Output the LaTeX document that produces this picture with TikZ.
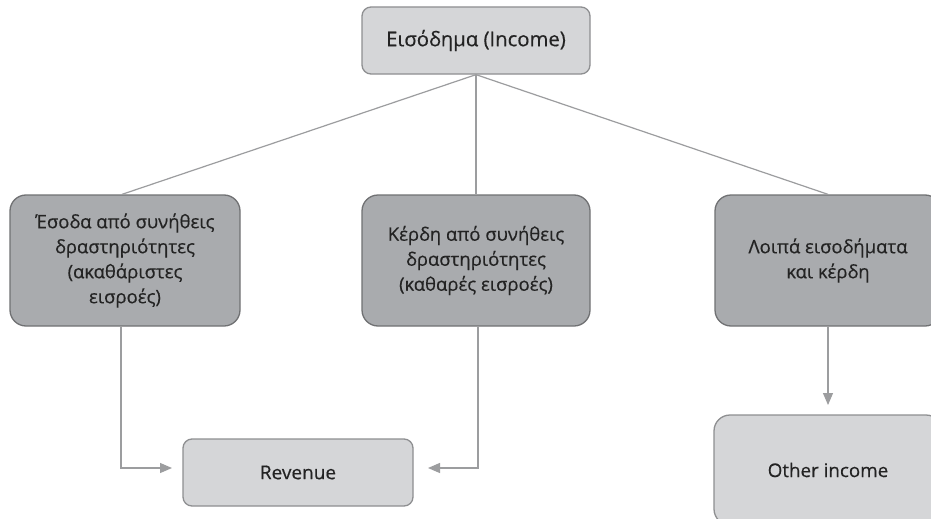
\documentclass[tikz,border=0pt]{standalone}
\usepackage{fontspec}
\setmainfont{Open Sans}[FakeBold=0.3]
\newfontfamily\boxfont{Open Sans}[FakeBold=0.4]
\usetikzlibrary{arrows.meta}
\definecolor{lightbox}{HTML}{D5D6D8}
\definecolor{lightedge}{HTML}{8E8F91}
\definecolor{darkbox}{HTML}{A9ABAE}
\definecolor{darkedge}{HTML}{707173}
\definecolor{linkcol}{HTML}{9C9D9F}
\definecolor{txt}{HTML}{232323}
\tikzset{
  lightnode/.style={draw=lightedge, fill=lightbox, line width=1.3pt, rounded corners=9pt, text=txt, align=center, inner sep=0pt},
  darknode/.style={draw=darkedge, fill=darkbox, line width=1.3pt, rounded corners=16pt, text=txt, align=center, inner sep=0pt, minimum height=131pt, font=\boxfont\fontsize{18.5}{25}\selectfont},
  link/.style={draw=linkcol, line width=1.2pt},
  arr/.style={link, -{Triangle[length=12pt,width=10pt]}, linkcol}
}
\begin{document}
\begin{tikzpicture}[x=1pt,y=-1pt]
\useasboundingbox (0,0) rectangle (931,519);
\fill[white] (0,0) rectangle (931,519);
\node[lightnode, minimum width=228pt, minimum height=67pt, font=\boxfont\fontsize{20.3}{24}\selectfont] (top) at (476,40.5) {Εισόδημα (Income)};
\node[darknode, minimum width=230pt] (left) at (125,260.5) {Έσοδα από συνήθεις\\δραστηριότητες\\(ακαθάριστες\\εισροές)};
\node[darknode, minimum width=228pt] (mid) at (476,260.5) {Κέρδη από συνήθεις\\δραστηριότητες\\(καθαρές εισροές)};
\node[lightnode, minimum width=230pt, minimum height=67pt, font=\boxfont\fontsize{19}{22}\selectfont] (rev) at (298,472.5) {Revenue};
\begin{scope}
\clip (0,0) rectangle (931,519);
\node[darknode, minimum width=226pt] (right) at (828,260.5) {Λοιπά εισοδήματα\\και κέρδη};
\node[lightnode, minimum width=228pt, minimum height=110pt, rounded corners=16pt, font=\boxfont\fontsize{18.8}{22}\selectfont] (oth) at (828,470) {Other income};
\end{scope}
\coordinate (lend) at (172,468);
\coordinate (rend) at (428,468);
\coordinate (oend) at (828,405);
\draw[link] (top.south) -- (left.north -| 122,0);
\draw[link] (top.south) -- (mid.north);
\draw[link] (top.south) -- (right.north);
\draw[arr] (left.south -| 121,0) |- (lend);
\draw[arr] (mid.south -| 478,0) |- (rend);
\draw[arr] (right.south) -- (oend);
\end{tikzpicture}
\end{document}
